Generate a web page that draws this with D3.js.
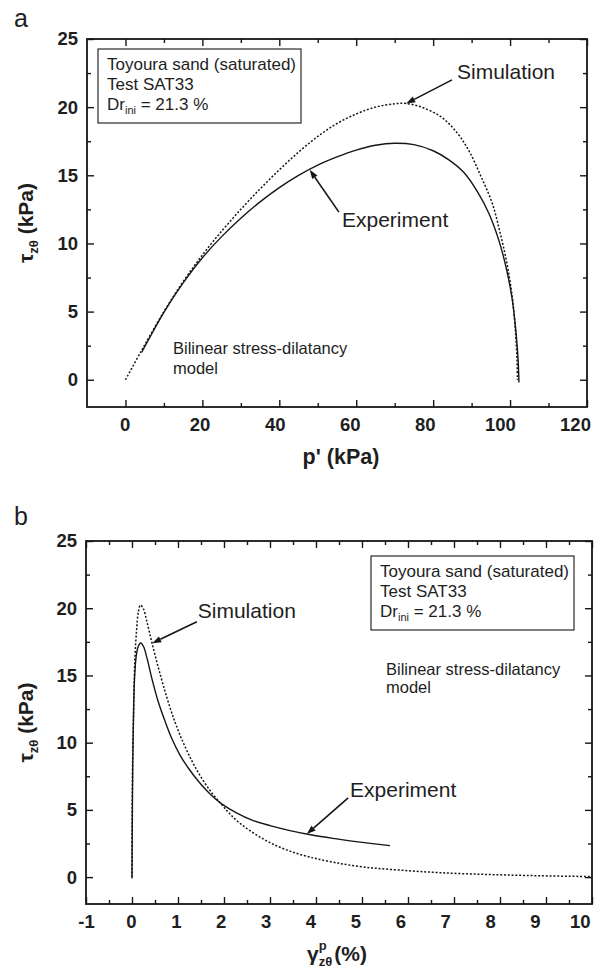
<!DOCTYPE html>
<html>
<head>
<meta charset="utf-8">
<script src="https://cdn.jsdelivr.net/npm/d3@7"></script>
<style>
  body { margin: 0; background: #fff; }
  text { font-family: "Liberation Sans", Arial, Helvetica, sans-serif; fill: #1e1e1e; }
</style>
</head>
<body>
<svg id="fig" width="602" height="971"></svg>
<script>
// ---------- Panel (a): effective stress path ----------
const expP   = [4.2, 7, 10, 15, 20, 25, 30, 35, 40, 45, 50, 55, 60, 65, 70, 75, 80, 84, 88, 91.5, 94.5, 97, 99, 100.5, 101.5, 102.1, 102.3];
const expTau = [2.0, 3.45, 4.95, 7.1, 8.95, 10.5, 11.85, 13.05, 14.1, 15.0, 15.75, 16.35, 16.85, 17.2, 17.35, 17.25, 16.8, 16.15, 15.2, 13.8, 12.2, 10.3, 8.2, 6.0, 3.6, 1.4, -0.2];
const simP   = [0, 4.2, 10, 15, 20, 25, 30, 35, 40, 45, 50, 55, 60, 65, 70, 73, 77, 82, 86, 89.3, 92.3, 95.3, 97.4, 99.2, 100.6, 101.4, 101.8, 101.9];
const simTau = [0, 2.15, 5.0, 7.2, 9.15, 10.9, 12.5, 14.0, 15.4, 16.7, 17.85, 18.8, 19.5, 20.0, 20.25, 20.27, 20.0, 19.3, 18.2, 16.8, 15.0, 13.0, 10.8, 8.5, 6.0, 3.5, 1.5, 0];

// ---------- Panel (b): stress vs plastic shear strain ----------
const expStrain = [0, 0.007, 0.017, 0.033, 0.054, 0.087, 0.13, 0.189, 0.25, 0.326, 0.435, 0.565, 0.717, 0.87, 1.043, 1.239, 1.457, 1.696, 1.957, 2.261, 2.609, 3.0, 3.435, 3.913, 4.413, 4.957, 5.609];
const expTauB   = [-0.1, 4.2, 8.7, 12.05, 14.66, 16.3, 17.1, 17.41, 17.15, 16.29, 14.73, 13.1, 11.61, 10.27, 9.08, 8.04, 7.07, 6.18, 5.43, 4.8, 4.24, 3.83, 3.46, 3.13, 2.86, 2.6, 2.34];
const simStrain = [0, 0.002, 0.015, 0.03, 0.043, 0.065, 0.1, 0.137, 0.185, 0.25, 0.326, 0.435, 0.587, 0.761, 0.935, 1.109, 1.304, 1.5, 1.739, 1.957, 2.13, 2.37, 2.696, 3.043, 3.435, 3.87, 4.413, 5.065, 5.83, 6.696, 7.78, 8.87, 10];
const simTauB   = [0, 4.0, 8.9, 11.5, 13.9, 16.4, 18.4, 19.7, 20.24, 19.94, 18.97, 17.41, 15.4, 13.32, 11.53, 10.04, 8.63, 7.44, 6.25, 5.36, 4.69, 3.94, 3.16, 2.49, 1.93, 1.49, 1.08, 0.74, 0.52, 0.33, 0.19, 0.1, 0.04];

// ---------- Axis ticks ----------
const tauMajor = [0, 5, 10, 15, 20, 25];
const tauMinor = [2.5, 7.5, 12.5, 17.5, 22.5];
const pMajor = [0, 20, 40, 60, 80, 100, 120];
const pMinor = [10, 30, 50, 70, 90, 110];
const strainMajor = [-1, 0, 1, 2, 3, 4, 5, 6, 7, 8, 9, 10];
const strainMinor = [-0.5, 0.5, 1.5, 2.5, 3.5, 4.5, 5.5, 6.5, 7.5, 8.5, 9.5];

// ---------- Annotation text ----------
const infoLines = ["Toyoura sand (saturated)", "Test SAT33"];
const modelLines = ["Bilinear stress-dilatancy", "model"];

const svg = d3.select("#fig");
const INK = "#161616";
const LABEL_SPREAD = 0.976;   // x tick labels sit on a slightly tighter pitch than the ticks

function zip(xs, ys) { return xs.map((x, i) => [x, ys[i]]); }

function drawPanel(cfg) {
  const x = d3.scaleLinear().domain(cfg.xDomain).range(cfg.xRange);
  const y = d3.scaleLinear().domain(cfg.yDomain).range(cfg.yRange);
  const [x0, x1] = cfg.xRange, [y0, y1] = [cfg.yRange[1], cfg.yRange[0]];
  const xLab = d3.scaleLinear().domain(cfg.xDomain).range([x0, x0 + LABEL_SPREAD * (x1 - x0)]);
  const g = svg.append("g");
  const plain = d => String(d);

  const tickStyle = sel => {
    sel.select(".domain").remove();
    sel.selectAll(".tick line").attr("stroke", INK).attr("stroke-width", 1.4);
    sel.selectAll(".tick text")
      .attr("fill", INK)
      .style("font-size", "18.5px").style("font-weight", "bold")
      .style("font-family", '"Liberation Sans", Arial, sans-serif');
  };

  // bottom axis: ticks, minor ticks, and labels
  g.append("g").attr("transform", `translate(0,${y1})`)
    .call(d3.axisBottom(x).tickValues(cfg.xMajor).tickSize(-7).tickFormat(""))
    .call(tickStyle);
  g.append("g").attr("transform", `translate(0,${y1})`)
    .call(d3.axisBottom(x).tickValues(cfg.xMinor).tickSize(-4).tickFormat(""))
    .call(tickStyle);
  g.append("g").attr("transform", `translate(0,${y1})`)
    .call(d3.axisBottom(xLab).tickValues(cfg.xMajor).tickSize(0).tickPadding(11).tickFormat(plain))
    .call(tickStyle);
  // top axis ticks
  g.append("g").attr("transform", `translate(0,${y0})`)
    .call(d3.axisTop(x).tickValues(cfg.xMajor).tickSize(-7).tickFormat(""))
    .call(tickStyle);
  g.append("g").attr("transform", `translate(0,${y0})`)
    .call(d3.axisTop(x).tickValues(cfg.xMinor).tickSize(-4).tickFormat(""))
    .call(tickStyle);
  // left axis with labels
  g.append("g").attr("transform", `translate(${x0},0)`)
    .call(d3.axisLeft(y).tickValues(tauMajor).tickSize(-7).tickPadding(9).tickFormat(plain))
    .call(tickStyle);
  g.append("g").attr("transform", `translate(${x0},0)`)
    .call(d3.axisLeft(y).tickValues(tauMinor).tickSize(-4).tickFormat(""))
    .call(tickStyle);
  // right axis ticks
  g.append("g").attr("transform", `translate(${x1},0)`)
    .call(d3.axisRight(y).tickValues(tauMajor).tickSize(-7).tickFormat(""))
    .call(tickStyle);
  g.append("g").attr("transform", `translate(${x1},0)`)
    .call(d3.axisRight(y).tickValues(tauMinor).tickSize(-4).tickFormat(""))
    .call(tickStyle);

  // frame
  g.append("rect").attr("x", x0).attr("y", y0).attr("width", x1 - x0).attr("height", y1 - y0)
    .attr("fill", "none").attr("stroke", INK).attr("stroke-width", 1.8);

  const line = d3.line().x(d => x(d[0])).y(d => y(d[1])).curve(d3.curveCatmullRom.alpha(0.5));
  g.append("path").datum(cfg.sim).attr("d", line)
    .attr("fill", "none").attr("stroke", INK).attr("stroke-width", 1.5).attr("stroke-dasharray", "2,1.8");
  g.append("path").datum(cfg.exp).attr("d", line)
    .attr("fill", "none").attr("stroke", INK).attr("stroke-width", 1.4);

  // y axis title: tau_ztheta (kPa)
  const yt = g.append("text")
    .attr("transform", `translate(${cfg.yTitleX},${(y0 + y1) / 2}) rotate(-90)`)
    .attr("text-anchor", "middle")
    .style("font-size", "21px").style("font-weight", "bold");
  yt.append("tspan").text("τ");
  yt.append("tspan").text("zθ").style("font-size", "13px").attr("dy", 5);
  yt.append("tspan").text(" (kPa)").attr("dy", -5);

  return { g, x, y };
}

function arrow(g, x, y, tail, tip) {
  const [tx, ty] = [x(tail[0]), y(tail[1])];
  const [hx, hy] = [x(tip[0]), y(tip[1])];
  const ang = Math.atan2(hy - ty, hx - tx);
  const L = 9, W = 3.2;
  const bx = hx - L * Math.cos(ang), by = hy - L * Math.sin(ang);
  g.append("line").attr("x1", tx).attr("y1", ty).attr("x2", bx).attr("y2", by)
    .attr("stroke", INK).attr("stroke-width", 1.6);
  const px = -Math.sin(ang) * W, py = Math.cos(ang) * W;
  g.append("path")
    .attr("d", `M${hx},${hy}L${bx + px},${by + py}L${bx - px},${by - py}Z`)
    .attr("fill", INK);
}

function label(g, px, py, str, size) {
  g.append("text").attr("x", px).attr("y", py).text(str).style("font-size", size + "px");
}

function infoBox(g, bx, by) {
  g.append("rect").attr("x", bx).attr("y", by).attr("width", 203).attr("height", 74)
    .attr("fill", "#fff").attr("stroke", INK).attr("stroke-width", 1.1);
  infoLines.forEach((s, i) => label(g, bx + 9, by + 21 + i * 20, s, 17));
  const t = g.append("text").attr("x", bx + 9).attr("y", by + 61).style("font-size", "17px");
  t.append("tspan").text("Dr");
  t.append("tspan").text("ini").style("font-size", "11px").attr("dy", 4);
  t.append("tspan").text(" = 21.3 %").attr("dy", -4);
}

// ---------- Panel (a) ----------
const A = drawPanel({
  xDomain: [-10, 120], xRange: [87, 587],
  yDomain: [-2, 25], yRange: [407, 39],
  xMajor: pMajor, xMinor: pMinor,
  exp: zip(expP, expTau), sim: zip(simP, simTau),
  yTitleX: 33
});
svg.append("text").attr("x", 14).attr("y", 27).text("a").style("font-size", "25px");
svg.append("text").attr("x", 341).attr("y", 464).attr("text-anchor", "middle")
  .text("p' (kPa)").style("font-size", "21.5px").style("font-weight", "bold");
infoBox(A.g, 98, 49);
modelLines.forEach((s, i) => label(A.g, 173, 354 + i * 20, s, 16.5));
label(A.g, A.x(86.2), A.y(22.1), "Simulation", 21);
arrow(A.g, A.x, A.y, [84.9, 22.0], [73, 20.27]);
label(A.g, A.x(56.3), A.y(11.2), "Experiment", 21);
arrow(A.g, A.x, A.y, [55.5, 12.3], [47.9, 15.4]);

// ---------- Panel (b) ----------
const B = drawPanel({
  xDomain: [-1, 10], xRange: [86, 592],
  yDomain: [-2, 25], yRange: [904, 541],
  xMajor: strainMajor, xMinor: strainMinor,
  exp: zip(expStrain, expTauB), sim: zip(simStrain, simTauB),
  yTitleX: 33
});
svg.append("text").attr("x", 14).attr("y", 525).text("b").style("font-size", "25px");
// x axis title: gamma^p_ztheta (%)
{
  const gx = 307, gy = 961;
  const gam = svg.append("text").attr("x", gx).attr("y", gy).text("γ")
    .style("font-size", "21px").style("font-weight", "bold");
  const gw = gam.node().getComputedTextLength();
  svg.append("text").attr("x", gx + gw).attr("y", gy - 11).text("p")
    .style("font-size", "13px").style("font-weight", "bold");
  const sub = svg.append("text").attr("x", gx + gw).attr("y", gy + 5).text("zθ")
    .style("font-size", "13px").style("font-weight", "bold");
  const sw = sub.node().getComputedTextLength();
  svg.append("text").attr("x", gx + gw + sw + 2).attr("y", gy).text("(%)")
    .style("font-size", "21px").style("font-weight", "bold");
}
infoBox(B.g, 371, 556);
modelLines.forEach((s, i) => label(B.g, 386, 675 + i * 18, s, 16.5));
label(B.g, B.x(1.43), B.y(19.3), "Simulation", 21);
arrow(B.g, B.x, B.y, [1.41, 19.0], [0.44, 17.4]);
label(B.g, B.x(4.74), B.y(5.95), "Experiment", 21);
arrow(B.g, B.x, B.y, [4.7, 5.9], [3.8, 3.2]);
</script>
</body>
</html>
